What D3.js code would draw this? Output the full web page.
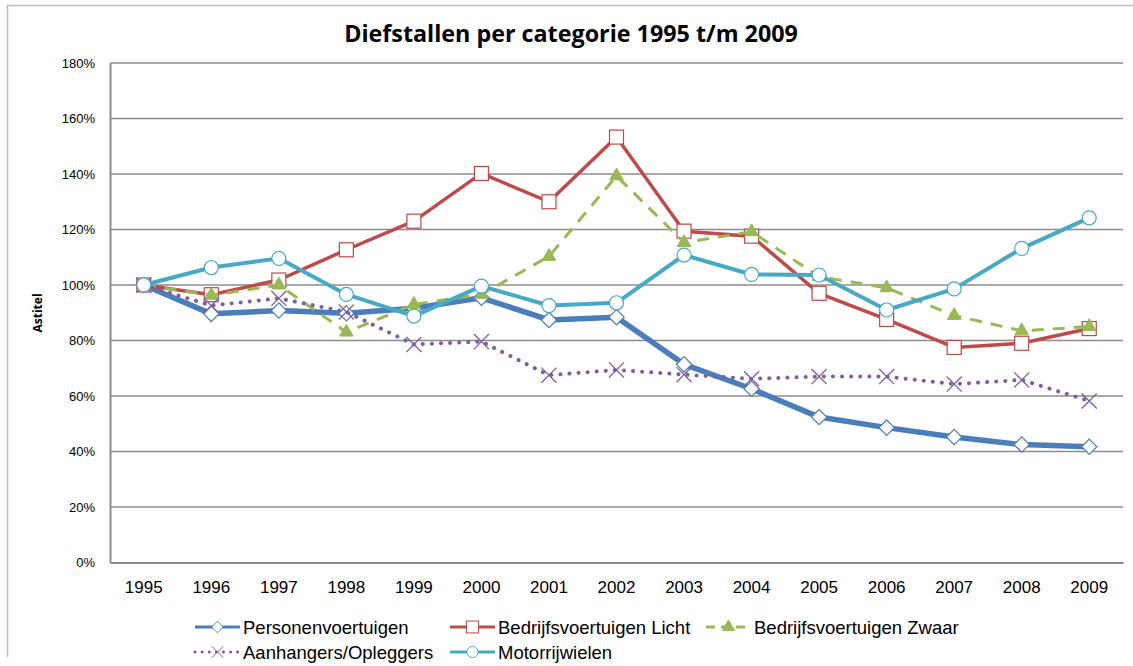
<!DOCTYPE html>
<html>
<head>
<meta charset="utf-8">
<script src="https://cdn.jsdelivr.net/npm/d3@7"></script>
<style>
  body { margin: 0; background: #fff; }
  text { font-family: "Liberation Sans", Arial, sans-serif; }
</style>
</head>
<body>
<svg id="chart" width="1133" height="666"></svg>
<script>
// data (index, 1995 = 100%)
var years = ["1995","1996","1997","1998","1999","2000","2001","2002","2003","2004","2005","2006","2007","2008","2009"];
var personen  = [100, 89.6, 90.8, 89.8, 91.6, 95.4, 87.4, 88.4, 71.4, 62.6, 52.4, 48.6, 45.2, 42.5, 41.7];
var licht     = [100, 96.5, 101.8, 112.7, 123, 140.2, 130, 153.3, 119.4, 117.6, 97, 87.6, 77.5, 79, 84.3];
var zwaar     = [100, 96.3, 100, 83, 93, 96.6, 110.3, 139.3, 115.3, 119.2, 103, 99, 89, 83.5, 85];
var aanhang   = [100, 92.6, 95.2, 90.3, 78.6, 79.6, 67.5, 69.4, 67.7, 66.2, 67, 67, 64.3, 65.8, 58.2];
var motor     = [100, 106.3, 109.6, 96.6, 88.8, 99.6, 92.6, 93.6, 110.8, 103.8, 103.6, 91, 98.6, 113.2, 124.2];
var yTicks = [0, 20, 40, 60, 80, 100, 120, 140, 160, 180];

var seriesList = [
  {name: "Personenvoertuigen", values: personen, color: "#4a7ebb", marker: "diamond", dash: null, width: 5.5},
  {name: "Bedrijfsvoertuigen Licht", values: licht, color: "#be4b48", marker: "square", dash: null, width: 3.5},
  {name: "Bedrijfsvoertuigen Zwaar", values: zwaar, color: "#98b954", marker: "triangle", dash: "12,9", width: 3},
  {name: "Aanhangers/Opleggers", values: aanhang, color: "#7d60a0", marker: "x", dash: "0.1,9", width: 4},
  {name: "Motorrijwielen", values: motor, color: "#46aac5", marker: "circle", dash: null, width: 4}
];

var svg = d3.select("#chart");
var margin = {top: 63, right: 10, bottom: 104, left: 110};
var width = 1133, height = 666;

// outer chart border (only left and top visible)
svg.append("path")
  .attr("d", "M7.5,657 V5.5 H1133")
  .attr("fill", "none").attr("stroke", "#bdbdbd").attr("stroke-width", 1.5);

var x = d3.scaleBand().domain(years).range([margin.left, width - margin.right]);
var y = d3.scaleLinear().domain([0, 180]).range([height - margin.bottom + 0.5, margin.top]);
var cx = function(i) { return x(years[i]) + x.bandwidth() / 2; };

// gridlines
svg.append("g")
  .selectAll("line")
  .data(yTicks.filter(function(d) { return d > 0; }))
  .enter().append("line")
    .attr("x1", margin.left).attr("x2", width - margin.right)
    .attr("y1", function(d) { return y(d); }).attr("y2", function(d) { return y(d); })
    .attr("stroke", "#8c8c8c").attr("stroke-width", 1.5);

// axes
var yAxis = svg.append("g")
  .attr("transform", "translate(" + margin.left + ",0)")
  .call(d3.axisLeft(y).tickValues(yTicks).tickSize(0).tickPadding(15).tickFormat(function(d) { return d + "%"; }));
yAxis.select(".domain").attr("stroke", "#8c8c8c").attr("stroke-width", 2);
yAxis.selectAll("text").attr("font-size", 13).attr("fill", "#000");

var xAxis = svg.append("g")
  .attr("transform", "translate(0," + y(0) + ")")
  .call(d3.axisBottom(x).tickSize(0).tickPadding(18));
xAxis.select(".domain").attr("stroke", "#8c8c8c").attr("stroke-width", 2);
xAxis.selectAll("text").attr("font-size", 17).attr("fill", "#000");

// title and axis label
svg.append("text")
  .attr("x", 571).attr("y", 42)
  .attr("text-anchor", "middle")
  .style("font-family", "'Open Sans', sans-serif")
  .attr("font-weight", "bold").attr("font-size", 23.3)
  .text("Diefstallen per categorie 1995 t/m 2009");

svg.append("text")
  .attr("transform", "translate(42,313) rotate(-90)")
  .attr("text-anchor", "middle")
  .style("font-family", "'Open Sans', sans-serif")
  .attr("font-weight", "bold").attr("font-size", 12)
  .text("Astitel");

function drawMarker(g, type, color, px, py) {
  if (type === "diamond") {
    g.append("path").attr("d", d3.symbol(d3.symbolDiamond2, 150)())
      .attr("transform", "translate(" + px + "," + py + ")")
      .attr("fill", "#fff").attr("stroke", color).attr("stroke-width", 1.2);
  } else if (type === "square") {
    g.append("rect").attr("x", px - 7).attr("y", py - 7).attr("width", 14).attr("height", 14)
      .attr("fill", "#fff").attr("stroke", color).attr("stroke-width", 1.2);
  } else if (type === "triangle") {
    g.append("path").attr("d", d3.symbol(d3.symbolTriangle, 80)())
      .attr("transform", "translate(" + px + "," + py + ")")
      .attr("fill", color).attr("stroke", color).attr("stroke-width", 1);
  } else if (type === "x") {
    g.append("path").attr("d", d3.symbol(d3.symbolTimes, 150)())
      .attr("transform", "translate(" + px + "," + py + ")")
      .attr("fill", "none").attr("stroke", color).attr("stroke-width", 1.3);
  } else if (type === "circle") {
    g.append("circle").attr("cx", px).attr("cy", py).attr("r", 7)
      .attr("fill", "#fff").attr("stroke", color).attr("stroke-width", 1.2);
  }
}

var line = d3.line()
  .x(function(d, i) { return cx(i); })
  .y(function(d) { return y(d); });

seriesList.forEach(function(s) {
  var g = svg.append("g");
  g.append("path")
    .datum(s.values)
    .attr("d", line)
    .attr("fill", "none")
    .attr("stroke", s.color)
    .attr("stroke-width", s.width)
    .attr("stroke-linecap", s.marker === "x" ? "round" : "butt")
    .attr("stroke-linejoin", "round")
    .attr("stroke-dasharray", s.dash);
  s.values.forEach(function(v, i) { drawMarker(g, s.marker, s.color, cx(i), y(v)); });
});

// legend
var legendPos = [[195, 627], [450, 627], [706, 627], [195, 652], [450, 652]];
seriesList.forEach(function(s, i) {
  var lx = legendPos[i][0], ly = legendPos[i][1];
  var g = svg.append("g");
  g.append("line")
    .attr("x1", lx).attr("x2", lx + 45).attr("y1", ly).attr("y2", ly)
    .attr("stroke", s.color).attr("stroke-width", 3)
    .attr("stroke-linecap", s.marker === "x" ? "round" : "butt")
    .attr("stroke-dasharray", s.marker === "x" ? "0.1,7" : (s.dash ? "9,6" : null));
  var ms = {diamond: 0.75, square: 0.85, triangle: 0.9, x: 0.75, circle: 0.8}[s.marker];
  var mg = g.append("g").attr("transform", "translate(" + (lx + 22.5) + "," + ly + ") scale(" + ms + ")");
  drawMarker(mg, s.marker, s.color, 0, 0);
  g.append("text")
    .attr("x", lx + 48).attr("y", ly + 6.5)
    .attr("font-size", 18.5)
    .text(s.name);
});
</script>
</body>
</html>
